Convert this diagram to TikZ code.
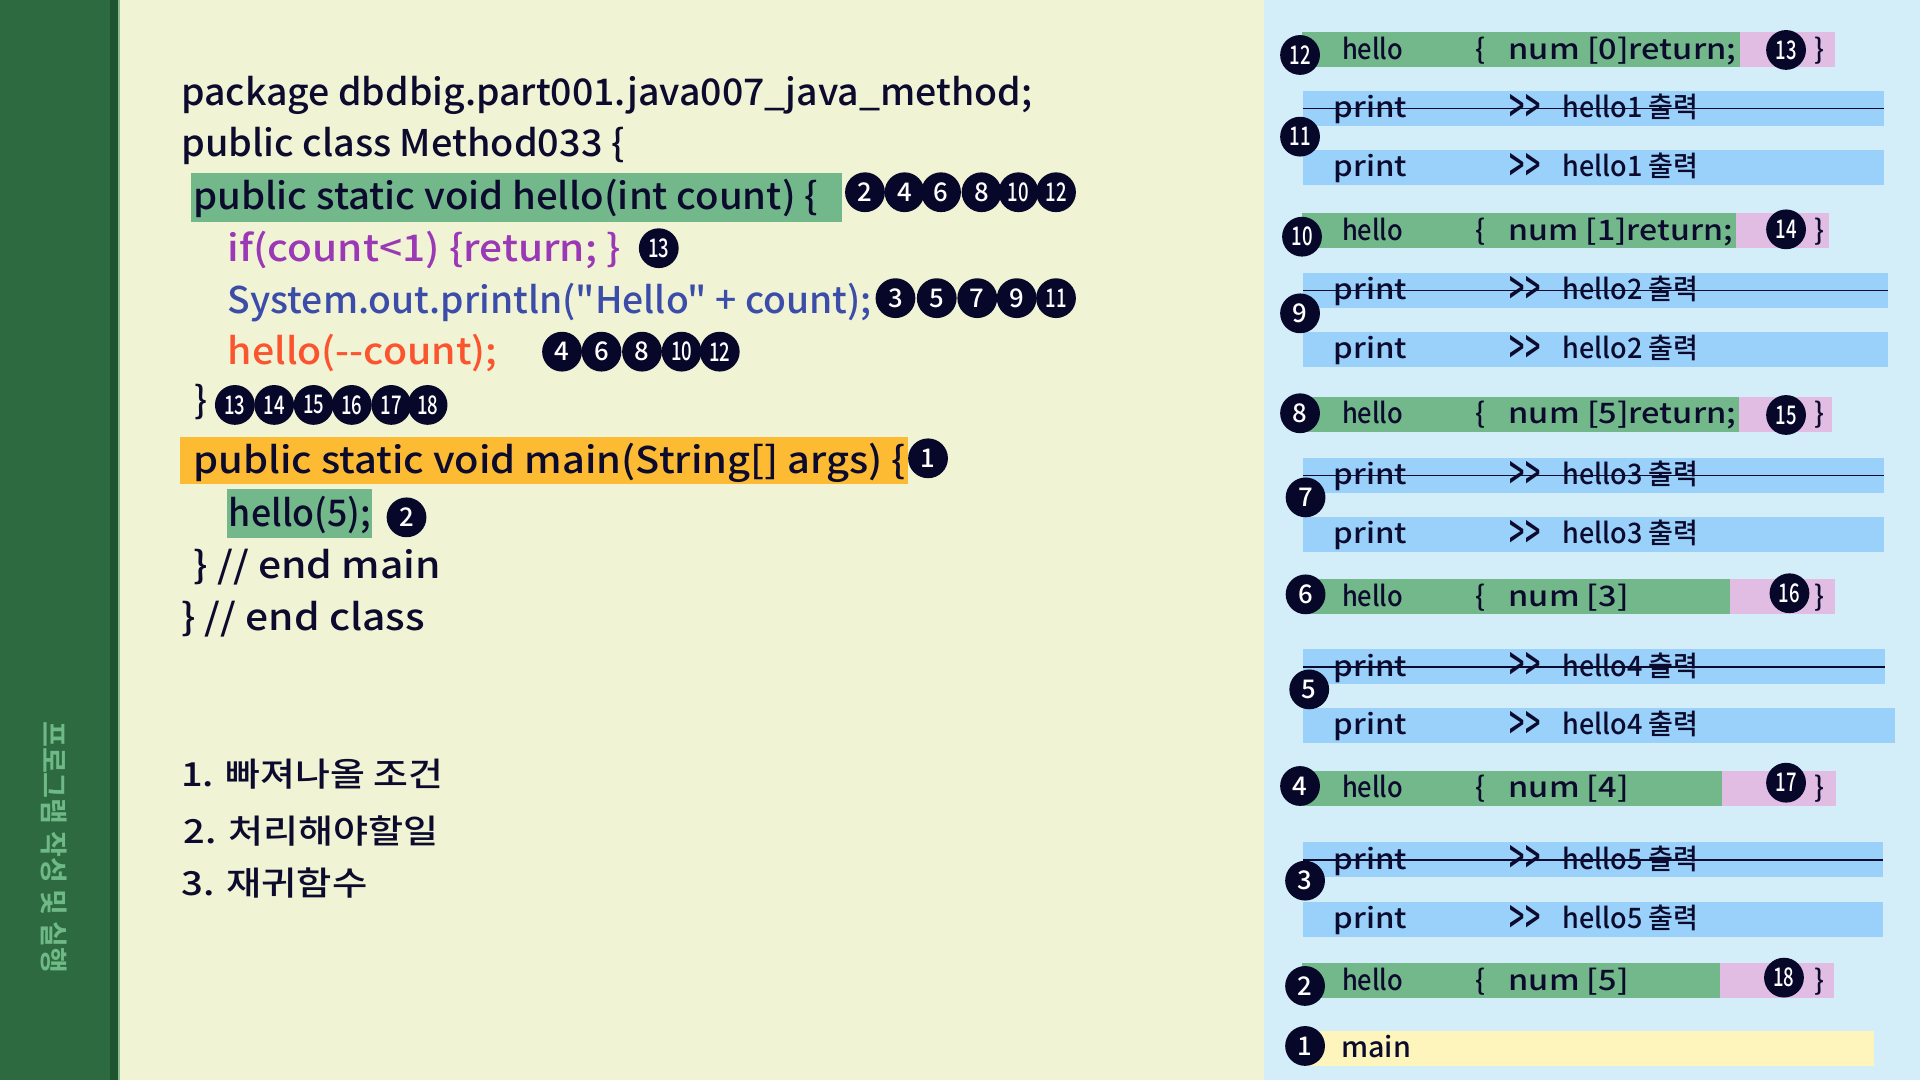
\documentclass[tikz,border=0pt]{standalone}
\usepackage{fontspec}
\usepackage{graphicx}
\newfontfamily\ff{Noto Sans CJK KR Medium}
\newfontfamily\fb{Noto Sans CJK KR Bold}
\definecolor{mainbg}{HTML}{F1F3D5}
\definecolor{rightbg}{HTML}{D4EEF9}
\definecolor{side}{HTML}{2E6A40}
\definecolor{sidedark}{HTML}{1F5430}
\definecolor{sidelight}{HTML}{8DBB8D}
\definecolor{sidetext}{HTML}{6FB987}
\definecolor{hlgreen}{HTML}{72B88A}
\definecolor{hlorange}{HTML}{FDBB33}
\definecolor{pinkc}{HTML}{E1BDE4}
\definecolor{barblue}{HTML}{9AD1FB}
\definecolor{baryellow}{HTML}{FDF5BC}
\definecolor{ink}{HTML}{0C0B2E}
\definecolor{badgec}{HTML}{07072A}
\definecolor{purplec}{HTML}{9B38B5}
\definecolor{bluec}{HTML}{3C4DA9}
\definecolor{redc}{HTML}{FB5530}
\newcommand\fw[2]{\resizebox{#1pt}{\height}{#2}}
\newcommand\bn[1]{\scalebox{0.72}[1]{#1}}
\newcommand\chev{\raisebox{-4.5pt}{\scalebox{0.95}[1.7]{>\kern0pt>}}}
\tikzset{
  codetxt/.style={anchor=base west, inner sep=0pt, outer sep=0pt, text=ink, font=\ff\fontsize{30}{36}\selectfont},
  kortxt/.style={anchor=base west, inner sep=0pt, outer sep=0pt, text=ink, font=\ff\fontsize{27}{32}\selectfont},
  rtxt/.style={anchor=base west, inner sep=0pt, outer sep=0pt, text=ink, font=\ff\fontsize{23}{28}\selectfont},
  badge/.style={circle, fill=badgec, inner sep=0pt, minimum size=32.5pt, text=white, font=\ff\fontsize{21}{21}\selectfont},
  strike/.style={draw=ink, line width=1.4pt},
}
\newcommand\hellorow[6]{%
  \fill[hlgreen] (1063,#2) rectangle (#3,#2+28.5);
  \fill[pinkc] (#3,#2) rectangle (#4,#2+28.5);
  \node[rtxt] (#1-h) at (1096,#2+22) {\fw{50}{hello}};
  \node[rtxt] (#1-o) at (1205,#2+22) {\{};
  \node[rtxt] (#1-n) at (1232,#2+22) {\fw{#6}{#5}};
  \node[rtxt] (#1-c) at (1482,#2+22) {\}};
}
\newcommand\printpair[6]{%
  \fill[barblue] (1064,#2) rectangle (#4,#2+28.5);
  \fill[barblue] (1064,#3) rectangle (#5,#3+28.5);
  \node[rtxt] (#1-pa) at (1089,#2+22) {\fw{60}{print}};
  \node[rtxt] (#1-ga) at (1233,#2+22) {\chev};
  \node[rtxt] (#1-ta) at (1276,#2+22) {\fw{111}{hello#6 출력}};
  \node[rtxt] (#1-pb) at (1089,#3+22) {\fw{60}{print}};
  \node[rtxt] (#1-gb) at (1233,#3+22) {\chev};
  \node[rtxt] (#1-tb) at (1276,#3+22) {\fw{111}{hello#6 출력}};
  \coordinate (#1-sl) at (1064,#2+14.5);
  \coordinate (#1-sr) at (#4,#2+14.5);
  \draw[strike] (#1-sl) -- (#1-sr);
}
\begin{document}
\begin{tikzpicture}[x=1pt,y=-1pt]
\useasboundingbox (0,0) rectangle (1568,882);
% backgrounds
\fill[mainbg] (0,0) rectangle (1568,882);
\fill[rightbg] (1032.5,0) rectangle (1568,882);
\fill[side] (0,0) rectangle (89.8,882);
\fill[sidedark] (89.8,0) rectangle (96.4,882);
\fill[sidelight] (96.4,0) rectangle (98,882);
\node[rotate=-90, text=sidetext, font=\fb\fontsize{23}{28}\selectfont, inner sep=0pt] (side) at (44,692) {프로그램 작성 및 실행};

% code highlights
\fill[hlgreen] (156,141.5) rectangle (688,181);
\fill[hlorange] (146.7,356.6) rectangle (741.2,395.5);
\fill[hlgreen] (185,399.6) rectangle (303.8,439);

% code lines
\node[codetxt] (l1) at (148,85.8) {\fw{695}{package dbdbig.part001.java007\_java\_method;}};
\node[codetxt] (l2) at (148,128) {\fw{362}{public class Method033 \{}};
\node[codetxt] (l3) at (158,171.5) {\fw{510}{public static void hello(int count) \{}};
\node[codetxt, text=purplec] (l4) at (186,213.7) {\fw{321}{if(count<1) \{return; \}}};
\node[codetxt, text=bluec] (l5) at (186,255.9) {\fw{526}{System.out.println("Hello" + count);}};
\node[codetxt, text=redc] (l6) at (186,298) {\fw{220}{hello(-\kern0pt-count);}};
\node[codetxt] (l7) at (159,337.5) {\}};
\node[codetxt] (l8) at (158,386.6) {\fw{582}{public static void main(String[] args) \{}};
\node[codetxt] (l9) at (187,430) {\fw{116}{hello(5);}};
\node[codetxt] (l10) at (158,472.3) {\fw{202}{\} // end main}};
\node[codetxt] (l11) at (148,514.5) {\fw{199}{\} // end class}};

% code badges
\foreach \n/\x [count=\i] in {2/706.4,4/738.7,6/768.5,8/801.6,\bn{10}/831.8,\bn{12}/862.4}
  \node[badge] (ca\i) at (\x,157) {\n};
\node[badge] (cb1) at (538,202.7) {\bn{13}};
\foreach \n/\x [count=\i] in {3/731.3,5/765,7/798.1,9/830.3,\bn{11}/862.4}
  \node[badge] (cc\i) at (\x,243.5) {\n};
\foreach \n/\x [count=\i] in {4/459,6/491.2,8/524.3,\bn{10}/556.6,\bn{12}/587.8}
  \node[badge] (cd\i) at (\x,287.2) {\n};
\foreach \n/\x [count=\i] in {\bn{13}/191.8,\bn{14}/223.9,\bn{15}/256.1,\bn{16}/287.3,\bn{17}/319.5,\bn{18}/349.2}
  \node[badge] (ce\i) at (\x,330.7) {\n};
\node[badge] (cf1) at (757.9,374.3) {1};
\node[badge] (cg1) at (332,422.5) {2};

% korean notes
\node[kortxt] (k1) at (148,642.4) {\fw{214}{1. 빠져나올 조건}};
\node[kortxt] (k2) at (150,688.7) {\fw{208}{2. 처리해야할일}};
\node[kortxt] (k3) at (148,731) {\fw{152}{3. 재귀함수}};

% right panel: call stack
\hellorow{rA}{26.4}{1421}{1498.6}{num [0]return;}{186}
\printpair{rB}{74}{122.5}{1538.4}{1538.4}{1}
\hellorow{rD}{174.2}{1417.4}{1494}{num [1]return;}{183}
\printpair{rE}{222.7}{270.9}{1542}{1542}{2}
\hellorow{rG}{324}{1419.8}{1496.5}{num [5]return;}{186}
\printpair{rH}{373.8}{421.9}{1538.4}{1538.4}{3}
\hellorow{rJ}{473.1}{1413.2}{1498.2}{num [3]}{98}
\printpair{rK}{530.3}{577.9}{1539.4}{1547.3}{4}
\hellorow{rM}{629.4}{1406}{1499.1}{num [4]}{98}
\printpair{rN}{687.9}{736.4}{1537.6}{1537.6}{5}
\hellorow{rP}{786.7}{1404.6}{1497.8}{num [5]}{98}
\fill[baryellow] (1063,842) rectangle (1530.8,870.3);
\node[rtxt] (rQ-m) at (1095.3,864) {\fw{57}{main}};

% right panel badges
\node[badge] (sb12) at (1061.7,44.9) {\bn{12}};
\node[badge] (sb13) at (1458.6,40.8) {\bn{13}};
\node[badge] (sb11) at (1061.7,111.6) {\bn{11}};
\node[badge] (sb10) at (1063.3,193.3) {\bn{10}};
\node[badge] (sb14) at (1458.6,187.3) {\bn{14}};
\node[badge] (sb9) at (1061.7,255.9) {9};
\node[badge] (sb8) at (1061.7,337.5) {8};
\node[badge] (sb15) at (1458.6,338.9) {\bn{15}};
\node[badge] (sb7) at (1066.2,406.2) {7};
\node[badge] (sb6) at (1066.2,485.4) {6};
\node[badge] (sb16) at (1461.4,484.5) {\bn{16}};
\node[badge] (sb5) at (1069.2,563) {5};
\node[badge] (sb4) at (1061.7,641.9) {4};
\node[badge] (sb17) at (1458.6,639.2) {\bn{17}};
\node[badge] (sb3) at (1065.8,719.2) {3};
\node[badge] (sb2) at (1065.8,805.2) {2};
\node[badge] (sb18) at (1456.9,798.4) {\bn{18}};
\node[badge] (sb1) at (1065.8,854.2) {1};
\end{tikzpicture}
\end{document}
